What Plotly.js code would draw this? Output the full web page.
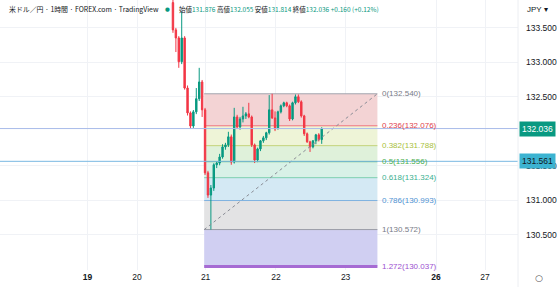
<!DOCTYPE html>
<html><head><meta charset="utf-8">
<script src="https://cdn.plot.ly/plotly-3.0.1.min.js"></script>
<style>html,body{margin:0;padding:0;background:#fff;}#chart{width:560px;height:287px;}</style>
</head><body><div id="chart"></div>
<script>
// hourly bar index (0 = first bar of the 21st)
const barIndex = [-11,-10,-9,-8,-7,-6,-5,-4,-3,-2,-1,0,1,2,3,4,5,6,7,8,9,10,11,12,13,14,15,16,17,18,19,20,21,22,23,24,25,26,27,28,29,30,31,32,33,34,35,36,37,38,39,40];
const openP = [133.861,133.466,133.349,133.004,133.349,132.623,132.263,132.073,132.278,132.468,132.711,132.307,131.394,131.072,131.174,131.511,131.536,131.624,131.770,131.799,131.916,131.551,132.204,132.058,132.175,132.219,132.249,132.204,131.799,131.580,131.741,131.858,131.901,131.975,132.307,132.190,132.044,132.278,132.365,132.409,132.365,132.175,132.409,132.497,132.424,132.219,131.960,131.843,131.770,131.858,131.945,131.876];
const highP = [133.965,133.495,133.375,133.730,133.375,132.660,132.285,132.305,132.623,132.916,132.740,132.335,131.423,131.218,131.533,131.560,131.669,131.809,131.829,131.989,131.949,132.336,132.235,132.205,132.351,132.275,132.409,132.225,131.819,131.759,131.869,131.929,131.989,132.521,132.540,132.285,132.295,132.385,132.425,132.425,132.385,132.425,132.530,132.530,132.445,132.235,131.979,131.859,131.869,131.959,131.969,132.055];
const lowP = [133.423,133.145,132.916,132.970,132.600,132.225,132.029,132.045,132.245,132.435,132.204,131.363,131.031,130.572,131.133,131.463,131.503,131.599,131.729,131.769,131.511,131.529,132.029,132.019,132.125,132.175,132.185,131.769,131.536,131.549,131.709,131.829,131.869,131.949,132.175,131.999,132.019,132.255,132.345,132.345,132.145,132.155,132.385,132.405,132.195,131.929,131.829,131.697,131.749,131.809,131.849,131.814];
const closeP = [133.466,133.349,133.004,133.349,132.623,132.263,132.073,132.278,132.468,132.711,132.307,131.394,131.072,131.174,131.511,131.536,131.624,131.770,131.799,131.916,131.551,132.204,132.058,132.175,132.219,132.249,132.204,131.799,131.580,131.741,131.858,131.901,131.975,132.307,132.190,132.029,132.278,132.365,132.409,132.365,132.175,132.409,132.497,132.424,132.219,131.960,131.843,131.770,131.858,131.945,131.872,132.036];

// Fibonacci retracement
const fibRatios = ['0','0.236','0.382','0.5','0.618','0.786','1','1.272'];
const fibPrices = [132.540,132.076,131.788,131.556,131.324,130.993,130.572,130.037];
const fibLineColors = ['#a3a6af','#f0707a','#c3d27a','#4caf50','#7ccfb0','#7fb2e0','#9a9ca5','#a66bd3'];
const fibLabelColors = ['#787b86','#e0404c','#a9bf3e','#4caf50','#3bb08f','#4f93d2','#787b86','#9c4fd0'];
const fibFillColors = [null,'#f3d3d4','#eef4d7','#dff1da','#d8f1e7','#d4e9f4','#e3e3e4','#d0cff2'];
const fibSpan = [-0.3, 59.1];

const lastPrice = 132.036;
const alertPrice = 131.561;

const priceTicks = [130.5,131.0,131.5,132.5,133.0,133.5];
const dayTickPos = [-40.3,-23.3,0.2,24.3,48.2,79.2,96.0];
const dayTickText = ['<b>19</b>','20','21','22','23','<b>26</b>','27'];

const symbolTitle = '米ドル／円 · 1時間 · FOREX.com · TradingView';
const ohlcLabels = ['始値','高値','安値','終値'];
const ohlcValues = ['131.876','132.055','131.814','132.036'];
const changeText = '+0.160 (+0.12%)';

const up = '#089981', down = '#f23645';

const traces = [
  {
    type:'scatter', mode:'lines', x:[fibSpan[0], fibSpan[1]], y:[fibPrices[6], fibPrices[0]],
    line:{color:'#8a8d96', width:1, dash:'dot'}, hoverinfo:'skip', showlegend:false
  },
  {
    type:'candlestick', x:barIndex, open:openP, high:highP, low:lowP, close:closeP,
    increasing:{line:{color:up, width:1}, fillcolor:up},
    decreasing:{line:{color:down, width:1}, fillcolor:down},
    whiskerwidth:0, hoverinfo:'skip', showlegend:false
  }
];

const shapes = [];
for (let i = 1; i < fibPrices.length; i++) {
  shapes.push({type:'rect', xref:'x', yref:'y', x0:fibSpan[0], x1:fibSpan[1], y0:fibPrices[i-1], y1:fibPrices[i],
    fillcolor:fibFillColors[i], line:{width:0}, layer:'between'});
}
for (let i = 0; i < fibPrices.length; i++) {
  shapes.push({type:'line', xref:'x', yref:'y', x0:fibSpan[0], x1:fibSpan[1], y0:fibPrices[i], y1:fibPrices[i],
    line:{color:fibLineColors[i], width: i === 7 ? 3 : 1}, layer:'between'});
}
shapes.push({type:'line', xref:'paper', yref:'y', x0:0, x1:1, y0:lastPrice, y1:lastPrice, line:{color:'#a8bbe9', width:1}, layer:'above'});
shapes.push({type:'line', xref:'paper', yref:'y', x0:0, x1:1, y0:alertPrice, y1:alertPrice, line:{color:'#7ab8e2', width:1}, layer:'above'});
shapes.push({type:'line', xref:'paper', yref:'paper', x0:1, x1:1, y0:-0.07, y1:1, line:{color:'#eceef2', width:1}});

const annotations = [];
for (let i = 0; i < fibPrices.length; i++) {
  annotations.push({xref:'x', yref:'y', x:fibSpan[1], y:fibPrices[i], xanchor:'left', yanchor:'middle', xshift:3,
    text: fibRatios[i] + '(' + fibPrices[i].toFixed(3) + ')', showarrow:false,
    font:{family:'Liberation Sans, Arial, sans-serif', size:8, color:fibLabelColors[i]}});
}
annotations.push({xref:'paper', yref:'y', x:1, y:lastPrice, xanchor:'left', yanchor:'middle', xshift:1,
  text:lastPrice.toFixed(3), showarrow:false, bgcolor:up, borderpad:2,
  font:{family:'Liberation Sans, Arial, sans-serif', size:8.5, color:'#ffffff'}});
annotations.push({xref:'paper', yref:'y', x:1, y:alertPrice, xanchor:'left', yanchor:'middle', xshift:1,
  text:alertPrice.toFixed(3), showarrow:false, bgcolor:'#3cb3d1', borderpad:2,
  font:{family:'Liberation Sans, Arial, sans-serif', size:8.5, color:'#131722'}});
annotations.push({xref:'paper', yref:'paper', x:7/518, y:1-9/270, xanchor:'left', yanchor:'middle',
  text:symbolTitle, showarrow:false, font:{family:'Noto Sans CJK JP, sans-serif', size:6.9, color:'#131722'}});
let ohlcText = '';
for (let i = 0; i < ohlcLabels.length; i++) {
  ohlcText += '<span style="color:#131722">' + ohlcLabels[i] + '</span><span style="color:' + up + '">' + ohlcValues[i] + '</span> ';
}
ohlcText += '<span style="color:' + up + '">' + changeText + '</span>';
annotations.push({xref:'paper', yref:'paper', x:177/518, y:1-9/270, xanchor:'left', yanchor:'middle',
  text:ohlcText, showarrow:false, font:{family:'Noto Sans CJK JP, sans-serif', size:6.5, color:'#131722'}});
annotations.push({xref:'paper', yref:'paper', x:167/518, y:1-9/270, xanchor:'center', yanchor:'middle',
  text:'●', showarrow:false, font:{family:'DejaVu Sans', size:5.5, color:up}});
annotations.push({xref:'paper', yref:'paper', x:525/518, y:1-10/270, xanchor:'left', yanchor:'middle',
  text:'JPY ▾', showarrow:false, font:{family:'Liberation Sans, Arial, sans-serif', size:8, color:'#131722'}});
annotations.push({xref:'paper', yref:'paper', x:539/518, y:-8/270, xanchor:'center', yanchor:'middle',
  text:'○', showarrow:false, font:{family:'DejaVu Sans', size:9, color:'#555'}});

const layout = {
  width:560, height:287,
  margin:{l:0, r:42, t:0, b:17, pad:0},
  paper_bgcolor:'#ffffff', plot_bgcolor:'#ffffff',
  showlegend:false,
  xaxis:{range:[-70.3,107.3], tickvals:dayTickPos, ticktext:dayTickText, showgrid:true, gridcolor:'#f0f2f6',
    zeroline:false, showline:false, ticks:'', rangeslider:{visible:false}, fixedrange:true,
    tickfont:{family:'Liberation Sans, Arial, sans-serif', size:8.5, color:'#131722'}},
  yaxis:{side:'right', range:[129.986,133.899], tickvals:priceTicks, tickformat:'.3f', showgrid:true, gridcolor:'#f0f2f6',
    zeroline:false, showline:false, ticks:'', ticklabelstandoff:7,
    tickfont:{family:'Liberation Sans, Arial, sans-serif', size:8.5, color:'#131722'}},
  shapes:shapes, annotations:annotations
};
Plotly.newPlot('chart', traces, layout, {staticPlot:true, displayModeBar:false});
</script></body></html>
